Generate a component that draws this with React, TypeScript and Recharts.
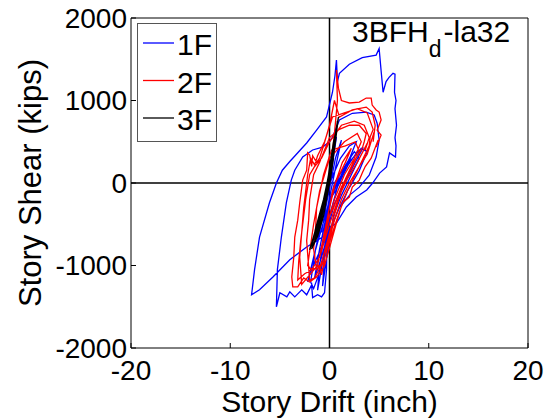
import { LineChart, Line, XAxis, YAxis, ReferenceLine } from "recharts";

// story drift (inch) / story shear (kips) histories
const drift1F = [
  0, 0.4, 0.7, 0.2, -0.5, -0.8, -0.3, 0.6, 1.2, 0.8, -0.2, -0.3, -0.5, -0.8, -1.2, -1.7, -1.8, -2.3, -2.8, -3.5,
  -4.0, -4.3, -5.0, -5.35, -5.25, -4.85, -4.35, -3.85, -3.5, -2.7, -1.7, -0.7, 0, 0.3, 1.0, 2.3, 3.7, 4.5, 4.8, 5.0,
  4.7, 4.0, 3.0, 2.0, 1.0, 0.3, -0.7, -2.3, -4.0, -5.7, -7.05, -7.85, -7.55, -7.05, -6.05, -5.35, -4.75, -4.0, -2.3, -1.3,
  -0.3, 0.3, 0.55, 0.7, 0.8, 1.0, 2.0, 3.3, 4.7, 5.0, 5.2, 5.4, 5.7, 6.0, 6.4, 6.6, 6.55, 6.7, 6.6, 6.75,
  6.6, 6.7, 6.65, 6.05, 5.75, 5.05, 4.35, 3.75, 2.7, 1.7, 0.7, 0, -0.8, -1.5, -1.0, 0, 1.5, 2.8, 3.4, 2.6,
  1.5, 0.5, -0.5, -2.0, -2.2, -1.5, -0.2, 1.0, 2.2, 1.8, 0.6, 0, -0.6, -1.2, -1.0, -0.4, 0.5, 1.8, 2.5, 3.0,
  2.2, 1.2, 0.4, -0.4, -0.7, -0.5, 0, 0.8, 1.6, 3.2, 3.8, 3.0, 1.8, 0.8, 0, -0.9, -1.6, -1.9, -1.4, -0.6,
  0.2, 1.1, 2.0, 2.7, 2.1, 1.0, 0.2,
];
const shear1F = [
  0, 350, 560, 150, -380, -600, -250, 300, 520, 300, -300, -1050, -1330, -1380, -1355, -1390, -1235, -1355, -1295, -1380,
  -1320, -1380, -1330, -1500, -1050, -655, -240, 35, 155, 315, 400, 435, 500, 555, 765, 845, 860, 825, 725, 520,
  315, 95, -50, -150, -300, -500, -655, -775, -930, -1140, -1295, -1355, -1050, -655, -240, 0, 155, 260, 485, 640,
  800, 1100, 1300, 1490, 1230, 1330, 1440, 1520, 1550, 1630, 1360, 1100, 1230, 1280, 1330, 1320, 1100, 1000, 900, 700,
  550, 450, 315, 365, 195, 120, 0, -85, -170, -290, -485, -545, -900, -1150, -800, -200, 150, 380, 430, 250,
  0, -250, -700, -1100, -1200, -850, -300, 100, 330, 200, -100, -200, -900, -1300, -1000, -500, 0, 250, 380, 300,
  100, -150, -400, -1000, -1250, -900, -400, -50, 200, 420, 380, 150, -100, -350, -600, -1050, -1280, -1200, -800, -350,
  50, 300, 450, 500, 320, 50, -150,
];

const drift2F = [
  0, 0.5, 0.8, 0.7, 0.9, 1.2, 2.0, 3.0, 3.7, 4.2, 4.3, 4.7, 5.0, 5.2, 4.8, 5.2, 4.7, 4.9, 4.2, 3.6,
  3.3, 3.0, 2.3, 2.0, 1.3, 1.0, 0.7, 0.2, -0.5, -1.3, -2.0, -2.6, -3.2, -3.7, -3.8, -3.6, -3.5, -3.2, -3.0, -2.7,
  -2.3, -2.2, -2.0, -1.8, -1.7, -1.3, -1.0, -0.6, 0, 0.5, 1.0, 2.3, 3.7, 4.3, 4.6, 4.4, 4.5, 3.8, 3.0, 2.0,
  1.2, 0.5, -0.3, -0.8, -1.0, -2.5, -3.2, -3.1, -2.9, -2.4, -2.0, -1.5, -0.8, 0, 1.2, 2.5, 3.5, 4.0, 3.6, 3.8,
  2.8, 1.8, 1.0, 0, -1.0, -1.8, -2.2, -1.6, -1.0, 0, 1.5, 2.8, 3.2, 2.5, 1.5, 0.5, 0, -0.6, 0.3, 1.3,
  2.2, 1.6, 0.6, 0, -1.2, -2.8, -3.0, -2.8, -2.6, -2.2, -1.9, -1.5, -1.2, -0.5, 0.3, 1.5, 2.8, 3.8, 4.4, 4.1,
  4.0, 3.4, 2.6, 1.8, 1.0, 0.3, -0.6, -1.5, -2.0, -2.3, -2.1, -2.0, -1.6, -1.0, 0, 1.0, 2.0, 3.0, 3.7, 3.5,
  3.3, 2.4, 1.6, 0.8, -0.2, -0.9, -1.3, -1.6, -1.4, -1.3, -0.6, 0.2, 1.6, 2.6, 3.0, 2.2, 1.2, 0.4, 0,
];
const shear2F = [
  0, 600, 1000, 1370, 1150, 1000, 970, 980, 1030, 1030, 945, 885, 860, 765, 640, 580, 435, 520, 300, 200,
  120, 35, -50, -170, -240, -365, -485, -700, -1000, -1140, -1200, -1150, -1260, -1260, -1140, -900, -655, -450, -240, 35,
  155, 365, 340, 200, 330, 250, 300, 450, 700, 1000, 800, 885, 920, 860, 700, 500, 620, 350, 200, 0,
  -200, -450, -800, -1115, -1000, -1100, -1175, -950, -700, -200, 100, 200, 300, 500, 700, 750, 700, 550, 400, 480,
  250, 50, -150, -500, -900, -1050, -1000, -500, -100, 300, 500, 600, 500, 300, 100, -200, -400, -700, -100, 250,
  420, 250, 0, -300, -1000, -1230, -900, -600, -300, 100, 300, 220, 330, 500, 800, 850, 900, 850, 650, 560,
  450, 300, 100, -100, -350, -600, -950, -1150, -1180, -700, -450, -200, 100, 250, 550, 650, 700, 700, 600, 500,
  420, 250, 50, -250, -700, -1000, -1050, -800, -550, -300, 100, 400, 450, 500, 380, 180, -50, -300, -400,
];

const drift3F = [
  0, 0.3, 0.6, 0.8, 0.5, 0, -0.6, -1.2, -1.8, -1.4, -0.6, 0.2, 0.5, 0.3, -0.2, -0.9, -1.5, -1.1, -0.3, 0.4,
  0.7, 0.4, -0.1, -0.7, -1.3, -0.8, 0, 0.5, 0.2, -0.5, -2.0, -1.0, -0.3, 0.2, 0.6, 0.9, 0.6, 0.1, -0.4, -1.0,
  -1.6, -1.2, -0.5, 0.1, 0.4, 0.1, -0.3,
];
const shear3F = [
  0, 300, 600, 750, 450, 0, -400, -650, -800, -550, -200, 250, 550, 400, -50, -500, -700, -450, -50, 350,
  650, 500, 100, -300, -600, -350, 0, 480, 200, -250, -810, -400, -100, 150, 500, 800, 600, 200, -150, -500,
  -750, -600, -250, 100, 300, 50, -200,
];

const xTicks = [-20, -10, 0, 10, 20];
const yTicks = [-2000, -1000, 0, 1000, 2000];
const storyNames = ["1F", "2F", "3F"];
const storyColors = ["#0000ff", "#ff0000", "#000000"];

const toPoints = (xs: number[], ys: number[]) => xs.map((x, i) => ({ x, y: ys[i] }));
const series = [
  toPoints(drift1F, shear1F),
  toPoints(drift2F, shear2F),
  toPoints(drift3F, shear3F),
];

const FONT = '"Liberation Sans", Arial, Helvetica, sans-serif';

export default function App() {
  return (
    <div
      style={{
        position: "absolute",
        left: 0,
        top: 0,
        width: 549,
        height: 419,
        background: "#fff",
        fontFamily: FONT,
      }}
    >
      <LineChart width={549} height={419} margin={{ top: 18, right: 21, bottom: 6, left: 0 }}>
        <XAxis
          type="number"
          dataKey="x"
          domain={[-20, 20]}
          ticks={xTicks}
          interval={0}
          allowDataOverflow
          height={65}
          tickSize={-5}
          tickMargin={17}
          axisLine={{ stroke: "#000" }}
          tickLine={{ stroke: "#000" }}
          tick={{ fill: "#000", fontSize: 28 }}
          label={{ value: "Story Drift (inch)", position: "insideBottom", offset: 1, fill: "#000", fontSize: 30 }}
        />
        <XAxis
          xAxisId="top"
          type="number"
          orientation="top"
          mirror
          domain={[-20, 20]}
          ticks={xTicks}
          interval={0}
          allowDataOverflow
          tickSize={5}
          tick={false}
          axisLine={{ stroke: "#000" }}
          tickLine={{ stroke: "#000" }}
        />
        <YAxis
          type="number"
          domain={[-2000, 2000]}
          ticks={yTicks}
          interval={0}
          allowDataOverflow
          width={131}
          tickSize={-5}
          tickMargin={9}
          axisLine={{ stroke: "#000" }}
          tickLine={{ stroke: "#000" }}
          tick={{ fill: "#000", fontSize: 28 }}
          label={{
            value: "Story Shear (kips)",
            angle: -90,
            position: "insideLeft",
            offset: 30,
            fill: "#000",
            fontSize: 31,
            style: { textAnchor: "middle" },
          }}
        />
        <YAxis
          yAxisId="right"
          type="number"
          orientation="right"
          mirror
          domain={[-2000, 2000]}
          ticks={yTicks}
          interval={0}
          allowDataOverflow
          tickSize={5}
          tick={false}
          axisLine={{ stroke: "#000" }}
          tickLine={{ stroke: "#000" }}
        />
        <ReferenceLine x={0} stroke="#000" strokeWidth={1.5} />
        <ReferenceLine y={0} stroke="#000" strokeWidth={1.5} />
        {series.map((pts, i) => (
          <Line
            key={storyNames[i]}
            data={pts}
            dataKey="y"
            name={storyNames[i]}
            type="linear"
            stroke={storyColors[i]}
            strokeWidth={1.3}
            dot={false}
            activeDot={false}
            isAnimationActive={false}
          />
        ))}
      </LineChart>
      <svg
        width={549}
        height={419}
        style={{ position: "absolute", left: 0, top: 0, pointerEvents: "none", fontFamily: FONT }}
      >
        <rect x={137.5} y={23.5} width={79} height={118} fill="#fff" stroke="#555" strokeWidth={1} />
        {storyNames.map((name, i) => (
          <g key={name}>
            <line x1={143} x2={174} y1={43 + i * 37.5} y2={43 + i * 37.5} stroke={storyColors[i]} strokeWidth={1.3} />
            <text x={177} y={55 + i * 37.5} fontSize={30} fill="#000">
              {name}
            </text>
          </g>
        ))}
        <text x={352} y={42} fontSize={30} fill="#000">
          3BFH
          <tspan fontSize={23} dy={15}>
            d
          </tspan>
          <tspan fontSize={30} dy={-15} dx={2}>
            -la32
          </tspan>
        </text>
      </svg>
    </div>
  );
}
